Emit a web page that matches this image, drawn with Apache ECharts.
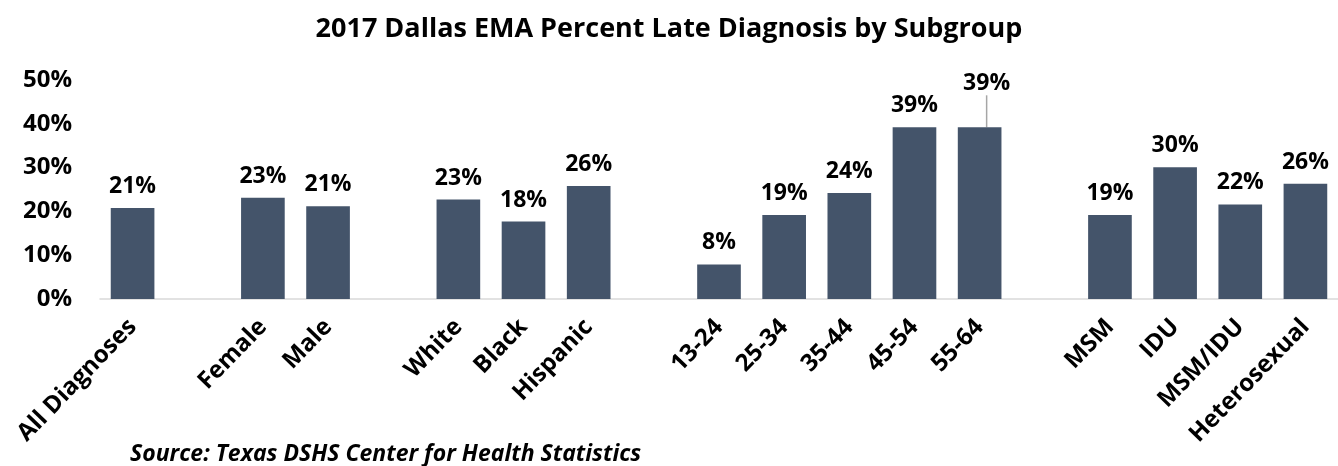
<!DOCTYPE html>
<html>
<head>
<meta charset="utf-8">
<script src="https://cdn.jsdelivr.net/npm/echarts@6/dist/echarts.min.js"></script>
<style>
html,body{margin:0;padding:0;background:#fff;}
#chart{width:1338px;height:466px;}
</style>
</head>
<body>
<div id="chart"></div>
<script>
// Categories ('' = spacer slot between subgroups)
const categories = ['All Diagnoses', '', 'Female', 'Male', '', 'White', 'Black', 'Hispanic', '',
  '13-24', '25-34', '35-44', '45-54', '55-64', '', 'MSM', 'IDU', 'MSM/IDU', 'Heterosexual'];
// Percent late diagnosis (null for spacer slots)
const values = [20.8, null, 23.1, 21.2, null, 22.7, 17.7, 25.8, null,
  7.9, 19.2, 24.2, 39.2, 39.2, null, 19.2, 30.1, 21.6, 26.3];
const labels = ['21%', '', '23%', '21%', '', '23%', '18%', '26%', '',
  '8%', '19%', '24%', '39%', '39%', '', '19%', '30%', '22%', '26%'];
const yTicks = [0, 10, 20, 30, 40, 50];

const FONT = '"Open Sans", Lato, sans-serif';
const chart = echarts.init(document.getElementById('chart'));
chart.setOption({
  animation: false,
  title: {
    text: '2017 Dallas EMA Percent Late Diagnosis by Subgroup',
    left: 'center', top: 11,
    textStyle: { fontFamily: FONT, fontWeight: 'bold', fontSize: 27, color: '#000' }
  },
  grid: { left: 100, right: 0, top: 80, bottom: 167, containLabel: false },
  xAxis: {
    type: 'category',
    data: categories,
    axisLine: { lineStyle: { color: '#d9d9d9', width: 1.5 } },
    axisTick: { show: false },
    axisLabel: {
      interval: 0, rotate: 46, margin: 24,
      fontFamily: FONT, fontWeight: 'bold', fontSize: 24, color: '#000'
    }
  },
  yAxis: {
    type: 'value', min: yTicks[0], max: yTicks[yTicks.length - 1], interval: 10,
    splitLine: { show: false },
    axisLine: { show: false }, axisTick: { show: false },
    axisLabel: {
      margin: 28, formatter: v => v + '%',
      fontFamily: FONT, fontWeight: 'bold', fontSize: 24, color: '#000'
    }
  },
  series: [{
    type: 'bar',
    data: values.map((v, i) => ({
      value: v,
      labelLine: i === 13 ? { show: true, lineStyle: { color: '#a6a6a6', width: 1.5 } } : undefined
    })),
    barCategoryGap: '33%',
    itemStyle: { color: '#44546A' },
    label: {
      show: true, position: 'top', distance: 10,
      formatter: p => labels[p.dataIndex],
      fontFamily: FONT, fontWeight: 'bold', fontSize: 23, color: '#000'
    },
    labelLayout: function (p) {
      if (p.dataIndex === 13) return { dx: 7, dy: -22 };
      return {};
    }
  }],
  graphic: [{
    type: 'text', left: 130, top: 443,
    style: {
      text: 'Source: Texas DSHS Center for Health Statistics',
      font: 'italic bold 23px ' + FONT, fill: '#000'
    }
  }]
});
</script>
</body>
</html>
